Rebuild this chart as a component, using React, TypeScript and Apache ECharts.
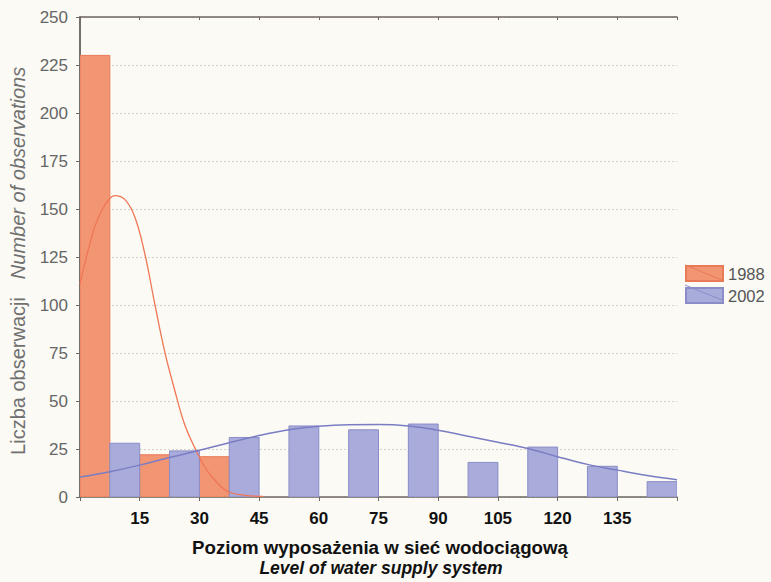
import { useEffect, useRef } from 'react';
import * as echarts from 'echarts';

// Histogram bins (start of each 15-wide class)
const binStarts = [0, 15, 30, 45, 60, 75, 90, 105, 120, 135];
const binWidth = 15;
const counts1988 = [230, 22, 21, 0, 0, 0, 0, 0, 0, 0];
const counts2002 = [28, 24, 31, 37, 35, 38, 18, 26, 16, 8];

// Fitted normal curves
const fit1988X = [0, 1.25, 2.5, 3.75, 6.25, 8.75, 11.25, 13.75, 16.25, 18.75, 21.25, 23.75, 26.25, 28.75, 31.25, 33.75, 37, 41, 46];
const fit1988Y = [111, 122, 132, 141, 152, 157, 155, 146, 127, 101, 76, 56, 38, 26, 16, 9, 3, 1, 0.3];
const fit2002X = [0, 7.5, 15, 22.5, 30, 37.5, 45, 52.5, 60, 67.5, 75, 82.5, 90, 97.5, 105, 112.5, 120, 127.5, 135, 142.5, 150];
const fit2002Y = [10.4, 13.2, 16.6, 20.6, 24.3, 28.3, 32, 35, 36.8, 37.6, 37.7, 37, 34.8, 31.6, 28.5, 25.3, 21, 17, 14, 11.2, 9];

const seriesNames = ['1988', '2002'];
const xTitle = 'Poziom wyposażenia w sieć wodociągową';
const xTitleEn = 'Level of water supply system';
const yTitle = 'Liczba obserwacji';
const yTitleEn = 'Number of observations';

const FONT = "'Liberation Sans', Arial, sans-serif";
const AXIS = '#6e6560';
const ORANGE = '#F29573';
const ORANGE_DARK = '#E97A58';
const BLUE = '#A9ABDA';
const BLUE_DARK = '#8A8DC8';

export default function App() {
  const ref = useRef<HTMLDivElement>(null);
  useEffect(() => {
    const chart = echarts.init(ref.current!, null, { renderer: 'svg' });

    const makeBars = (counts: number[], offset: number) =>
      binStarts.map((s, i) => [s + offset, s + offset + binWidth / 2, counts[i]]);

    const renderBar = (fill: string, stroke: string) => (params: any, api: any) => {
      const v = api.value(2);
      if (!(v > 0)) return null;
      const p0 = api.coord([api.value(0), v]);
      const p1 = api.coord([api.value(1), 0]);
      return {
        type: 'rect',
        shape: { x: p0[0], y: p0[1], width: p1[0] - p0[0], height: p1[1] - p0[1] },
        style: { fill, stroke, lineWidth: 1 },
      };
    };

    const option: any = {
      animation: false,
      backgroundColor: '#FBFAF4',
      textStyle: { fontFamily: FONT },
      grid: { left: 80, right: 94, top: 17, bottom: 85 },
      xAxis: [
        {
          type: 'value', min: 0, max: 150, interval: 15, position: 'bottom',
          axisLine: { show: true, onZero: false, lineStyle: { color: AXIS, width: 1.5 } },
          axisTick: { show: true, inside: false, length: 4, lineStyle: { color: AXIS } },
          axisLabel: {
            margin: 13, fontSize: 17, fontWeight: 'bold', color: '#111', fontFamily: FONT,
            formatter: (v: number) => (v === 0 || v === 150 ? '' : String(v)),
          },
          splitLine: { show: false },
        },
        {
          type: 'value', min: 0, max: 150, interval: 15, position: 'top',
          axisLine: { show: true, onZero: false, lineStyle: { color: AXIS, width: 1.5 } },
          axisTick: { show: true, inside: true, length: 3, lineStyle: { color: AXIS } },
          axisLabel: { show: false },
          splitLine: { show: false },
        },
      ],
      yAxis: [
        {
          type: 'value', min: 0, max: 250, interval: 25,
          axisLine: { show: true, lineStyle: { color: AXIS, width: 1.5 } },
          axisTick: { show: true, inside: false, length: 4, lineStyle: { color: AXIS } },
          axisLabel: { margin: 12, fontSize: 17, color: '#666', fontFamily: FONT },
          splitLine: { show: true, lineStyle: { color: '#d2d1ca', width: 1, type: [2, 2] } },
        },
        {
          type: 'value', min: 0, max: 250, interval: 25, position: 'right',
          axisLine: { show: true, lineStyle: { color: AXIS, width: 1.5 } },
          axisTick: { show: true, inside: true, length: 3, lineStyle: { color: AXIS } },
          axisLabel: { show: false },
          splitLine: { show: false },
        },
      ],
      legend: {
        data: seriesNames,
        orient: 'vertical',
        left: 685,
        top: 265,
        padding: 0,
        itemWidth: 37,
        itemHeight: 15,
        itemGap: 5,
        icon: 'rect',
        textStyle: { fontSize: 16.5, color: '#555', lineHeight: 15, fontFamily: FONT },
      },
      series: [
        {
          name: seriesNames[0], type: 'custom', clip: true,
          itemStyle: { color: ORANGE, borderColor: ORANGE_DARK, borderWidth: 1 },
          encode: { x: [0, 1], y: 2 },
          data: makeBars(counts1988, 0),
          renderItem: renderBar(ORANGE, ORANGE_DARK),
          z: 2,
        },
        {
          name: seriesNames[1], type: 'custom', clip: true,
          itemStyle: { color: BLUE, borderColor: BLUE_DARK, borderWidth: 1 },
          encode: { x: [0, 1], y: 2 },
          data: makeBars(counts2002, binWidth / 2),
          renderItem: renderBar(BLUE, BLUE_DARK),
          z: 2,
        },
        {
          name: '1988 fit', type: 'line', smooth: 0.4, showSymbol: false, clip: true,
          data: fit1988X.map((x, i) => [x, fit1988Y[i]]),
          lineStyle: { color: '#F07656', width: 1.3 },
          itemStyle: { color: '#F07656' },
          z: 5,
        },
        {
          name: '2002 fit', type: 'line', smooth: 0.4, showSymbol: false, clip: true,
          data: fit2002X.map((x, i) => [x, fit2002Y[i]]),
          lineStyle: { color: '#7A7DC4', width: 1.5 },
          itemStyle: { color: '#7A7DC4' },
          z: 5,
        },
      ],
      graphic: [
        {
          type: 'text', x: 18, y: 376, rotation: Math.PI / 2,
          style: { text: yTitle, fontSize: 20, fontFamily: FONT, fill: '#707070', textAlign: 'center', textVerticalAlign: 'middle', align: 'center', verticalAlign: 'middle' },
        },
        {
          type: 'text', x: 18, y: 173, rotation: Math.PI / 2,
          style: { text: yTitleEn, fontSize: 20, fontStyle: 'italic', fontFamily: FONT, fill: '#707070', textAlign: 'center', textVerticalAlign: 'middle', align: 'center', verticalAlign: 'middle' },
        },
        {
          type: 'text', x: 380, y: 547,
          style: { text: xTitle, fontSize: 18.7, fontWeight: 'bold', fontFamily: FONT, fill: '#111', textAlign: 'center', textVerticalAlign: 'middle', align: 'center', verticalAlign: 'middle' },
        },
        {
          type: 'text', x: 381, y: 568,
          style: { text: xTitleEn, fontSize: 17.5, fontWeight: 'bold', fontStyle: 'italic', fontFamily: FONT, fill: '#111', textAlign: 'center', textVerticalAlign: 'middle', align: 'center', verticalAlign: 'middle' },
        },
        {
          type: 'line', shape: { x1: 685, y1: 265, x2: 722, y2: 280 },
          style: { stroke: ORANGE_DARK, lineWidth: 1 }, z: 100,
        },
        {
          type: 'line', shape: { x1: 685, y1: 285, x2: 722, y2: 300 },
          style: { stroke: BLUE_DARK, lineWidth: 1 }, z: 100,
        },
      ],
    };

    chart.setOption(option);
    return () => chart.dispose();
  }, []);

  return <div ref={ref} style={{ position: 'fixed', left: 0, top: 0, width: 771, height: 582 }} />;
}
